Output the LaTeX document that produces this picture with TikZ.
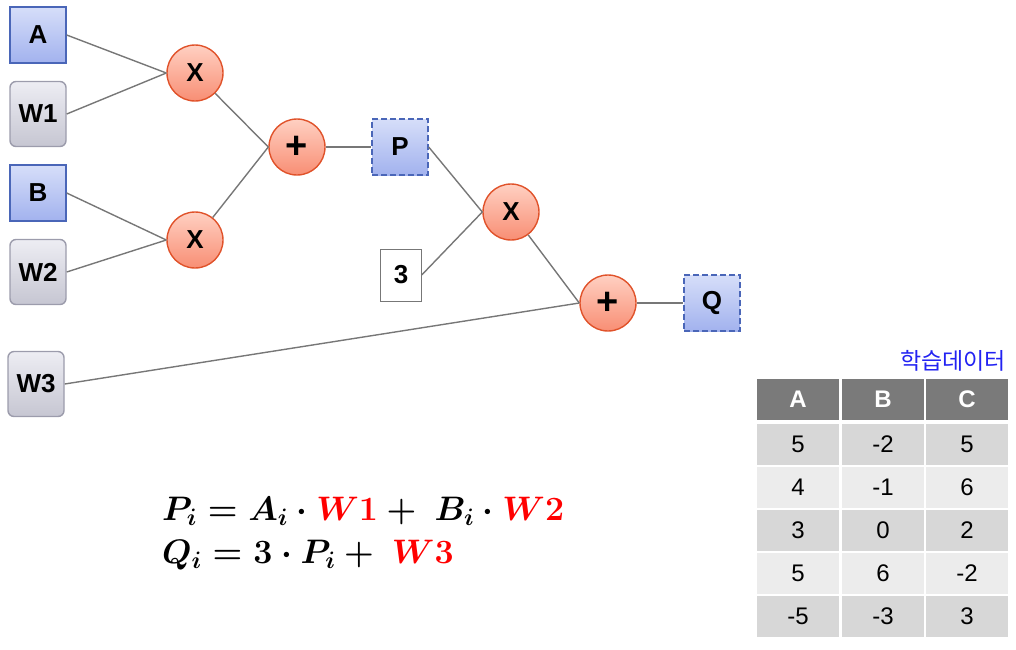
\documentclass[tikz,border=0pt]{standalone}
\usepackage{fix-cm}
\usepackage{amsmath}
\usepackage{fontspec}
\setmainfont{Liberation Sans}
\newfontfamily\krfont{Noto Sans CJK KR}
\usepackage{tikz}
\usetikzlibrary{positioning, calc}
\definecolor{inBlue}{HTML}{4A66B8}
\definecolor{inTop}{HTML}{D6DEF9}
\definecolor{inBot}{HTML}{A2B2EE}
\definecolor{wEdge}{HTML}{9C9CAC}
\definecolor{wTop}{HTML}{EDEDF3}
\definecolor{wBot}{HTML}{C6C6D2}
\definecolor{opEdge}{HTML}{E0522A}
\definecolor{opTop}{HTML}{FFD0C2}
\definecolor{opBot}{HTML}{F88E74}
\definecolor{linkGray}{HTML}{777777}
\definecolor{headGray}{HTML}{7A7A7A}
\definecolor{rowDark}{HTML}{D7D7D7}
\definecolor{rowLight}{HTML}{ECECEC}
\definecolor{titleBlue}{HTML}{2222F2}
\definecolor{eqRed}{HTML}{FF0000}

\begin{document}
\begin{tikzpicture}[
  x=1pt, y=-1pt,
  lbl/.style={font=\bfseries\fontsize{26}{30}\selectfont, text=black},
  inbox/.style={lbl, draw=inBlue, line width=1.4pt, top color=inTop, bottom color=inBot,
                minimum width=56pt, minimum height=56pt, inner sep=0pt},
  wbox/.style={lbl, draw=wEdge, line width=1.4pt, rounded corners=6pt, top color=wTop,
               bottom color=wBot, minimum width=56pt, minimum height=65pt, inner sep=0pt},
  outbox/.style={inbox, dash pattern=on 6pt off 3pt},
  constbox/.style={lbl, draw=linkGray, fill=white, minimum width=41pt,
                   minimum height=52pt, inner sep=0pt},
  opnode/.style={lbl, circle, draw=opEdge, line width=1.4pt, top color=opTop, bottom color=opBot,
                 minimum size=56pt, inner sep=0pt},
  plusnode/.style={opnode, font=\bfseries\fontsize{38}{40}\selectfont},
  link/.style={draw=linkGray, line width=1.4pt},
  cell/.style={minimum width=82pt, minimum height=41pt, inner sep=0pt,
               font=\fontsize{24}{28}\selectfont},
  headcell/.style={cell, fill=headGray, text=white, font=\bfseries\fontsize{24}{28}\selectfont}
]
\useasboundingbox (0,0) rectangle (1016,649);

% inputs
\node[inbox] (inA)  at (38,35)  {A};
\node[wbox]  (wOne) at (38,114) {W1};
\node[inbox] (inB)  at (38,193) {B};
\node[wbox]  (wTwo) at (38,272) {W2};
\node[wbox]  (wThree) at (36,384) {W3};
\node[constbox] (three) at (401,275) {3};

% operations
\node[opnode] (mulA) at (195,73)  {X};
\node[opnode] (mulB) at (195,240) {X};
\node[plusnode] (addP) at (297,147) {+};
\node[outbox] (outP) at (400,147) {P};
\node[opnode] (mulP) at (511,212) {X};
\node[plusnode] (addQ) at (608,303) {+};
\node[outbox] (outQ) at (712,303) {Q};

% connectors
\draw[link] (inA.east) -- (mulA.west);
\draw[link] (wOne.east) -- (mulA.west);
\draw[link] (inB.east) -- (mulB.west);
\draw[link] (wTwo.east) -- (mulB.west);
\draw[link] (mulA) -- (addP.west);
\draw[link] (mulB) -- (addP.west);
\draw[link] (addP.east) -- (outP.west);
\draw[link] (outP.east) -- (mulP.west);
\draw[link] (three.east) -- (mulP.west);
\draw[link] (mulP) -- (addQ.west);
\draw[link] (wThree.east) -- (addQ.west);
\draw[link] (addQ.east) -- (outQ.west);

% equations
\node[anchor=base west, inner sep=0pt, font=\fontsize{34}{38}\selectfont\boldmath] (eqP) at (162,520)
  {$P_i = A_i \cdot \textcolor{eqRed}{W1} + \ B_i \cdot \textcolor{eqRed}{W2}$};
\node[anchor=base west, inner sep=0pt, font=\fontsize{34}{38}\selectfont\boldmath] (eqQ) at (162,563)
  {$Q_i = 3 \cdot P_i + \ \textcolor{eqRed}{W3}$};

% training data table
\node[anchor=base east, inner sep=0pt, text=titleBlue, font=\krfont\fontsize{23}{26}\selectfont] (title) at (1006,369) {학습데이터};
\node[headcell] (hA) at (798,399) {A};
\node[headcell] (hB) at (883,399) {B};
\node[headcell] (hC) at (967,399) {C};
\foreach \a/\b/\c/\y/\fc [count=\r] in {5/-2/5/444/rowDark, 4/-1/6/487/rowLight,
    3/0/2/530/rowDark, 5/6/-2/573/rowLight, -5/-3/3/616/rowDark} {
  \node[cell, fill=\fc] (r\r a) at (798,\y) {\a};
  \node[cell, fill=\fc] (r\r b) at (883,\y) {\b};
  \node[cell, fill=\fc] (r\r c) at (967,\y) {\c};
}
\end{tikzpicture}
\end{document}
